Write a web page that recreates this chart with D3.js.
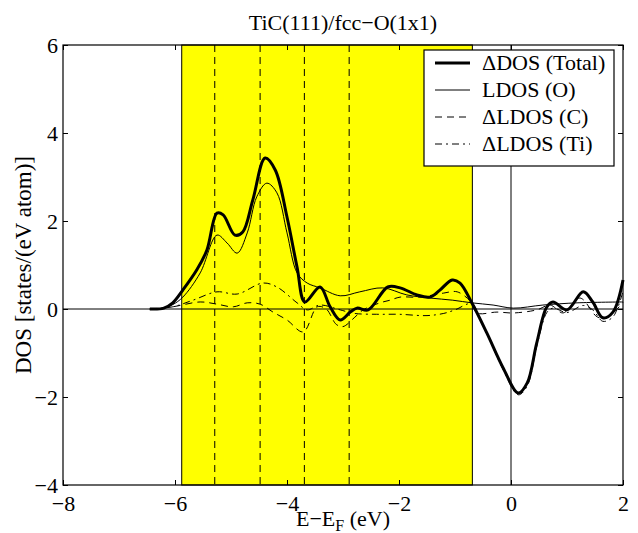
<!DOCTYPE html>
<html>
<head>
<meta charset="utf-8">
<script src="https://cdn.jsdelivr.net/npm/d3@7"></script>
<style>
  body { margin: 0; background: #fff; }
  svg { display: block; }
  svg text { font-family: "Liberation Serif", "Times New Roman", Times, "DejaVu Serif", serif; fill: #000; }
</style>
</head>
<body>
<svg id="chart" width="638" height="533"></svg>
<script>
// energies (eV) and values
const totalE = [-6.45, -6.2, -6.04, -5.86, -5.61, -5.43, -5.25, -5.14, -4.93, -4.79, -4.61, -4.39, -4.21, -4.0, -3.82, -3.68, -3.41, -3.23, -3.05, -2.87, -2.75, -2.55, -2.2, -1.98, -1.68, -1.45, -1.27, -1.05, -0.91, -0.7, -0.43, -0.14, 0.13, 0.29, 0.46, 0.64, 0.75, 1.0, 1.29, 1.46, 1.64, 1.82, 2.0];
const totalDOS = [0, 0.02, 0.14, 0.43, 0.89, 1.34, 2.18, 2.14, 1.68, 1.75, 2.48, 3.43, 3.16, 2.09, 0.95, 0.16, 0.5, 0.05, -0.25, -0.07, 0.02, -0.02, 0.5, 0.48, 0.32, 0.27, 0.43, 0.66, 0.59, 0.14, -0.55, -1.34, -1.91, -1.68, -0.77, 0.05, 0.16, -0.02, 0.39, 0.16, -0.2, -0.07, 0.66];

const oxygenE = [-6.45, -6.2, -6.04, -5.86, -5.55, -5.25, -5.07, -4.89, -4.71, -4.54, -4.36, -4.18, -4.0, -3.82, -3.64, -3.41, -3.05, -2.7, -2.29, -1.86, -1.45, -1.04, -0.7, -0.32, 0.04, 0.57, 1.18, 2.0];
const oxygenDOS = [0, 0.02, 0.1, 0.27, 0.82, 1.68, 1.5, 1.27, 1.73, 2.55, 2.86, 2.64, 1.73, 0.82, 0.59, 0.48, 0.3, 0.39, 0.48, 0.32, 0.25, 0.2, 0.14, 0.09, 0.02, 0.09, 0.14, 0.16];

const carbonE = [-6.45, -6.04, -5.55, -5.25, -4.96, -4.71, -4.48, -4.25, -4.0, -3.71, -3.46, -3.3, -3.12, -3.0, -2.8, -2.64, -2.34, -2.16, -1.98, -1.63, -1.21, -0.96, -0.7, -0.61, -0.25, 0.04, 0.46, 0.7, 0.93, 1.23, 1.54, 1.71, 2.0];
const carbonDOS = [0, 0.05, 0.16, 0.11, 0.05, 0.14, 0.11, -0.07, -0.25, -0.52, 0.05, 0.0, -0.35, -0.4, -0.2, -0.02, 0.14, 0.2, 0.27, 0.27, 0.36, 0.39, 0.14, -0.09, -0.07, -0.09, -0.02, 0.09, -0.09, 0.25, -0.18, -0.2, 0.15];

const titaniumE = [-6.45, -6.04, -5.68, -5.25, -4.89, -4.43, -4.18, -3.82, -3.64, -3.41, -3.05, -2.8, -2.4, -2.0, -1.5, -1.2, -1.0, -0.7, -0.55, -0.4, -0.14, 0.13, 0.29, 0.46, 0.64, 0.75, 1.0, 1.29, 1.46, 1.64, 1.82, 2.0];
const titaniumDOS = [0, 0.05, 0.2, 0.39, 0.34, 0.59, 0.5, 0.14, -0.02, 0.09, -0.02, -0.1, -0.12, -0.12, -0.15, -0.1, -0.02, 0.12, -0.25, -0.65, -1.38, -1.95, -1.75, -0.85, -0.08, 0.02, -0.08, 0.08, -0.02, -0.28, -0.18, 0.4];

const bandRange = [-5.88, -0.69];
const levelMarks = [-5.29, -4.48, -3.69, -2.89];
const xTicks = [-8, -6, -4, -2, 0, 2];
const yTicks = [-4, -2, 0, 2, 4, 6];
const legendLabels = ["\u0394DOS (Total)", "LDOS (O)", "\u0394LDOS (C)", "\u0394LDOS (Ti)"];

const FONT = '"Liberation Serif", "Times New Roman", Times, "DejaVu Serif", serif';

const svg = d3.select('#chart').attr('font-family', FONT);
const margin = { top: 45, right: 15, bottom: 48, left: 63 };
const width = 638, height = 533;

const x = d3.scaleLinear().domain([-8, 2]).range([margin.left, width - margin.right]);
const y = d3.scaleLinear().domain([-4, 6]).range([height - margin.bottom, margin.top]);

const plotW = x(2) - x(-8);
const plotH = y(-4) - y(6);

svg.append('rect').attr('width', width).attr('height', height).attr('fill', '#fff');

// shaded band
svg.append('rect')
    .attr('x', x(bandRange[0]))
    .attr('y', y(6))
    .attr('width', x(bandRange[1]) - x(bandRange[0]))
    .attr('height', plotH)
    .attr('fill', '#ffff00')
    .attr('stroke', '#000')
    .attr('stroke-width', 1);

// dashed level lines
svg.selectAll('.level')
    .data(levelMarks)
    .enter()
    .append('line')
    .attr('x1', d => x(d)).attr('x2', d => x(d))
    .attr('y1', y(6)).attr('y2', y(-4))
    .attr('stroke', '#000')
    .attr('stroke-width', 1)
    .attr('stroke-dasharray', '7,5');

// zero lines
svg.append('line')
    .attr('x1', x(-8)).attr('x2', x(2))
    .attr('y1', y(0)).attr('y2', y(0))
    .attr('stroke', '#000').attr('stroke-width', 1);
svg.append('line')
    .attr('x1', x(0)).attr('x2', x(0))
    .attr('y1', y(6)).attr('y2', y(-4))
    .attr('stroke', '#000').attr('stroke-width', 1);

const series = [
    { e: totalE, v: totalDOS, width: 3, dash: null },
    { e: oxygenE, v: oxygenDOS, width: 1, dash: null },
    { e: carbonE, v: carbonDOS, width: 1, dash: '7,5' },
    { e: titaniumE, v: titaniumDOS, width: 1, dash: '7,4,2,4' }
];

const line = d3.line()
    .x(d => x(d[0]))
    .y(d => y(d[1]))
    .curve(d3.curveCatmullRom.alpha(0.5));

// draw thin ones first, thick total on top
[1, 2, 3, 0].forEach(i => {
    const s = series[i];
    svg.append('path')
        .datum(d3.zip(s.e, s.v))
        .attr('d', line)
        .attr('fill', 'none')
        .attr('stroke', '#000')
        .attr('stroke-width', s.width)
        .attr('stroke-linejoin', 'round')
        .attr('stroke-dasharray', s.dash);
});

// axes, ticks inward on all four sides
const fmt = d3.format('');
const axBottom = svg.append('g')
    .attr('transform', `translate(0, ${y(-4)})`)
    .call(d3.axisBottom(x).tickValues(xTicks).tickSize(-5).tickPadding(10).tickFormat(fmt));
const axTop = svg.append('g')
    .attr('transform', `translate(0, ${y(6)})`)
    .call(d3.axisTop(x).tickValues(xTicks).tickSize(-5).tickFormat(''));
const axLeft = svg.append('g')
    .attr('transform', `translate(${x(-8)}, 0)`)
    .call(d3.axisLeft(y).tickValues(yTicks).tickSize(-5).tickPadding(5).tickFormat(fmt));
const axRight = svg.append('g')
    .attr('transform', `translate(${x(2)}, 0)`)
    .call(d3.axisRight(y).tickValues(yTicks).tickSize(-5).tickFormat(''));

[axBottom, axTop, axLeft, axRight].forEach(g => {
    g.attr('font-family', FONT).attr('font-size', 22);
    g.select('.domain').remove();
    g.selectAll('text').attr('fill', '#000');
    g.selectAll('line').attr('stroke', '#000');
});

svg.append('rect')
    .attr('x', x(-8)).attr('y', y(6))
    .attr('width', plotW).attr('height', plotH)
    .attr('fill', 'none')
    .attr('stroke', '#000')
    .attr('stroke-width', 1.2);

// title and labels
svg.append('text')
    .attr('x', x(-8) + plotW / 2)
    .attr('y', 30)
    .attr('text-anchor', 'middle')
    .attr('font-size', 22)
    .text('TiC(111)/fcc\u2212O(1x1)');

const xl = svg.append('text')
    .attr('x', x(-8) + plotW / 2)
    .attr('y', 526)
    .attr('text-anchor', 'middle')
    .attr('font-size', 22);
xl.append('tspan').text('E\u2212E');
xl.append('tspan').attr('dy', 5).attr('font-size', 16).text('F');
xl.append('tspan').attr('dy', -5).text(' (eV)');

svg.append('text')
    .attr('transform', `translate(31, ${y(1)}) rotate(-90)`)
    .attr('text-anchor', 'middle')
    .attr('font-size', 23)
    .text('DOS [states/(eV atom)]');

// legend
const legend = svg.append('g').attr('transform', 'translate(424, 50)');
legend.append('rect')
    .attr('width', 190).attr('height', 116)
    .attr('fill', '#fff')
    .attr('stroke', '#000')
    .attr('stroke-width', 1.2);

const rows = legend.selectAll('.row')
    .data(legendLabels)
    .enter()
    .append('g')
    .attr('transform', (d, i) => `translate(0, ${13 + i * 27})`);

rows.append('line')
    .attr('x1', 11).attr('x2', 46)
    .attr('y1', 0).attr('y2', 0)
    .attr('stroke', '#000')
    .attr('stroke-width', (d, i) => series[i].width === 3 ? 3 : 1)
    .attr('stroke-dasharray', (d, i) => series[i].dash);

rows.append('text')
    .attr('x', 58)
    .attr('y', 7)
    .attr('font-size', 22)
    .text(d => d);
</script>
</body>
</html>
